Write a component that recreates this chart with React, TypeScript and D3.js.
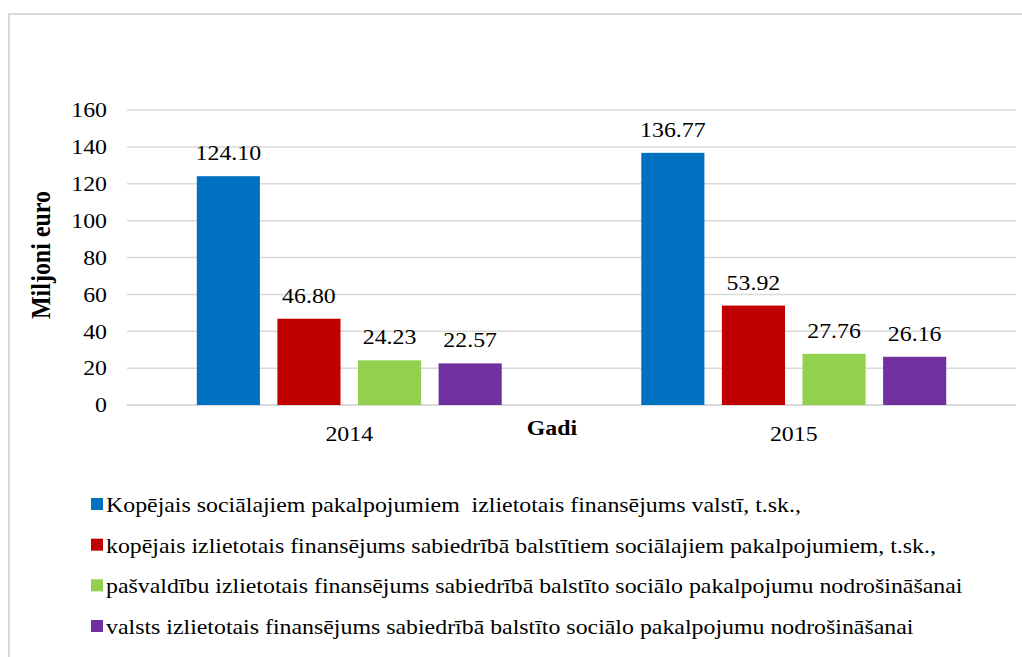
import React from 'react';
import * as d3 from 'd3';

const years = ['2014', '2015'];
const seriesNames = [
  'Kopējais sociālajiem pakalpojumiem  izlietotais finansējums valstī, t.sk.,',
  'kopējais izlietotais finansējums sabiedrībā balstītiem sociālajiem pakalpojumiem, t.sk.,',
  'pašvaldību izlietotais finansējums sabiedrībā balstīto sociālo pakalpojumu nodrošināšanai',
  'valsts izlietotais finansējums sabiedrībā balstīto sociālo pakalpojumu nodrošināšanai',
];
const seriesColors = ['#0070C0', '#C00000', '#92D050', '#7030A0'];
const values2014 = [124.1, 46.8, 24.23, 22.57];
const values2015 = [136.77, 53.92, 27.76, 26.16];
const yTicks = [0, 20, 40, 60, 80, 100, 120, 140, 160];

const W = 1022;
const H = 657;
const font = "'Liberation Serif', 'Times New Roman', Tinos, serif";
// the original picture is a bit wider than tall, so the glyphs are stretched sideways
const SX = 1.136;

type TxtProps = {
  x: number;
  y: number;
  size?: number;
  anchor?: 'start' | 'middle' | 'end';
  bold?: boolean;
  rotate?: number;
  dy?: string;
  children: React.ReactNode;
};

const Txt = ({ x, y, size = 21, anchor = 'start', bold = false, rotate = 0, dy, children }: TxtProps) => (
  <text
    transform={`translate(${x},${y}) scale(${SX},1)${rotate ? ` rotate(${rotate})` : ''}`}
    dy={dy}
    textAnchor={anchor}
    fontSize={size}
    fontWeight={bold ? 'bold' : 'normal'}
    fill="#000"
    style={{ fontFamily: font, whiteSpace: 'pre' }}
  >
    {children}
  </text>
);

const App = () => {
  const table = [values2014, values2015];

  const x0 = d3.scaleBand<string>().domain(years).range([127, 1016]).padding(0);
  const bw = x0.bandwidth();
  const x1 = d3
    .scaleBand<number>()
    .domain(d3.range(seriesNames.length))
    .range([bw * 0.157, bw * 0.843])
    .paddingInner(0.217)
    .paddingOuter(0);
  const y = d3.scaleLinear().domain([0, 160]).range([405, 110]);

  const legend = d3.scaleLinear().domain([0, 3]).range([512, 634]);

  return (
    <svg width={W} height={H} style={{ position: 'absolute', left: 0, top: 0, background: '#fff' }}>
      <rect x={0} y={0} width={W} height={H} fill="#fff" />
      {/* chart frame, cut off at right and bottom */}
      <path d={`M9,${H + 2} V14 H${W + 2}`} fill="none" stroke="#d9d9d9" strokeWidth={2} />

      {/* grid + y ticks */}
      {yTicks.map((t) => (
        <g key={t}>
          <line x1={127} x2={1016} y1={y(t)} y2={y(t)} stroke="#d9d9d9" strokeWidth={t === 0 ? 2 : 1.5} />
          <Txt x={107} y={y(t)} dy="0.35em" anchor="end">
            {t}
          </Txt>
        </g>
      ))}

      {/* bars */}
      {years.map((yr, gi) => (
        <g key={yr} transform={`translate(${x0(yr)},0)`}>
          {table[gi].map((v, si) => (
            <g key={si}>
              <rect x={x1(si)} y={y(v)} width={x1.bandwidth()} height={y(0) - y(v)} fill={seriesColors[si]} />
              <Txt x={(x1(si) as number) + x1.bandwidth() / 2} y={y(v) - 16} anchor="middle">
                {v.toFixed(2)}
              </Txt>
            </g>
          ))}
          <Txt x={bw / 2} y={441} anchor="middle">
            {yr}
          </Txt>
        </g>
      ))}

      {/* axis titles */}
      <Txt x={552} y={435} anchor="middle" bold>
        Gadi
      </Txt>
      <Txt x={50} y={255} anchor="middle" bold size={24} rotate={-90}>
        Miljoni euro
      </Txt>

      {/* legend */}
      {seriesNames.map((name, i) => (
        <g key={i}>
          <rect x={91} y={legend(i) - 14} width={12} height={12} fill={seriesColors[i]} />
          <Txt x={106} y={legend(i)}>
            {name}
          </Txt>
        </g>
      ))}
    </svg>
  );
};

export default App;
